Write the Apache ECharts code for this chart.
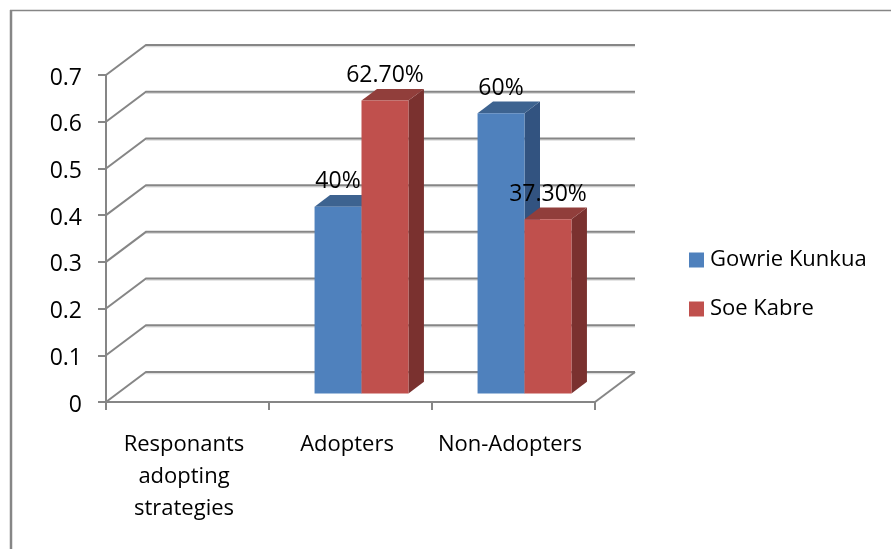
<!DOCTYPE html>
<html>
<head>
<meta charset="utf-8">
<style>html,body{margin:0;padding:0;background:#fff}#c{width:891px;height:549px}</style>
<script src="https://cdn.jsdelivr.net/npm/echarts@6/dist/echarts.min.js"></script>
</head>
<body>
<div id="c"></div>
<script>
const categories = ['Responants\nadopting\nstrategies', 'Adopters', 'Non-Adopters'];
const gowrieKunkua = [null, 0.4, 0.6];
const soeKabre = [null, 0.627, 0.373];
const gowrieLabels = ['', '40%', '60%'];
const soeLabels = ['', '62.70%', '37.30%'];
const gridTicks = [0, 0.1, 0.2, 0.3, 0.4, 0.5, 0.6, 0.7];

const FONT = '"Open Sans", "Noto Sans", sans-serif';
const GRID = '#868686';
const DEPTH = [40, -30], BAR_DEPTH = [15.5, -11.7], BAR_BASE = [11, -8.5];
const BAR_SHARE = 0.288;

function wallItem(params, api) {
  const v = api.value(0);
  const cs = params.coordSys;
  const y = api.coord([0, v])[1];
  const x0 = cs.x, x1 = cs.x + cs.width;
  const xb = x0 + DEPTH[0], yb = y + DEPTH[1];
  const children = [
    { type: 'line', shape: { x1: xb, y1: yb + 1.5, x2: x1 + DEPTH[0], y2: yb + 1.5 }, style: { stroke: '#dcdcdc', lineWidth: 1.5 } },
    { type: 'polyline', shape: { points: [[x0, y], [xb, yb], [x1 + DEPTH[0], yb]] }, style: { stroke: GRID, lineWidth: 2, fill: null } }
  ];
  if (v === 0) {
    children.push({ type: 'line', shape: { x1: x1, y1: y, x2: x1 + DEPTH[0], y2: yb }, style: { stroke: GRID, lineWidth: 2 } });
  }
  return { type: 'group', children };
}

function barRenderer(slot, labels, colors) {
  return function (params, api) {
    const i = api.value(0), v = api.value(1);
    if (v == null || isNaN(v)) return null;
    const band = api.size([1, 0])[0], w = band * BAR_SHARE;
    const cx = api.coord([i, 0])[0] + BAR_BASE[0];
    const xl = cx + (slot === 0 ? -w : 0), xr = xl + w;
    const yb = api.coord([i, 0])[1] + BAR_BASE[1];
    const yt = api.coord([i, v])[1] + BAR_BASE[1];
    const dx = BAR_DEPTH[0], dy = BAR_DEPTH[1];
    return {
      type: 'group',
      children: [
        { type: 'polygon', shape: { points: [[xr, yt], [xr + dx, yt + dy], [xr + dx, yb + dy], [xr, yb]] }, style: { fill: colors.side } },
        { type: 'polygon', shape: { points: [[xl, yt], [xl + dx, yt + dy], [xr + dx, yt + dy], [xr, yt]] }, style: { fill: colors.top } },
        { type: 'rect', shape: { x: xl, y: yt, width: w, height: yb - yt }, style: { fill: colors.front } },
        { type: 'text', z2: 50, style: { text: labels[i], x: (xl + xr) / 2, y: yt - 25, align: 'center', verticalAlign: 'middle', font: '23px ' + FONT, fill: '#000' } }
      ]
    };
  };
}

const chart = echarts.init(document.getElementById('c'), null, { renderer: 'canvas' });
chart.setOption({
  animation: false,
  backgroundColor: '#fff',
  graphic: [
    { type: 'line', silent: true, shape: { x1: 11, y1: 10, x2: 11, y2: 549 }, style: { stroke: GRID, lineWidth: 2.5 } },
    { type: 'line', silent: true, shape: { x1: 10, y1: 10.5, x2: 891, y2: 10.5 }, style: { stroke: GRID, lineWidth: 1.5 } }
  ],
  grid: { left: 106, top: 75, width: 489, height: 327, containLabel: false },
  xAxis: {
    type: 'category', data: categories,
    axisLine: { lineStyle: { color: GRID, width: 2 } },
    axisTick: { show: true, interval: 0, alignWithLabel: false, length: 8, lineStyle: { color: GRID, width: 2 } },
    axisLabel: { color: '#000', fontFamily: FONT, fontSize: 22, lineHeight: 32, margin: 27, interval: 0, padding: [0, 7, 0, 0] }
  },
  yAxis: {
    type: 'value', min: 0, max: 0.7, interval: 0.1,
    axisLine: { show: true, lineStyle: { color: GRID, width: 2 } },
    axisTick: { show: true, length: 8, lineStyle: { color: GRID, width: 2 } },
    axisLabel: { color: '#000', fontFamily: FONT, fontSize: 23, margin: 24, verticalAlign: 'top', lineHeight: 6 },
    splitLine: { show: false }
  },
  legend: {
    left: 689, top: 246, padding: 0, orient: 'vertical', icon: 'rect', itemWidth: 15, itemHeight: 15, itemGap: 21,
    selectedMode: false, data: ['Gowrie Kunkua', 'Soe Kabre'],
    textStyle: { color: '#000', fontFamily: FONT, fontSize: 22, padding: [2, 0, 0, 1], lineHeight: 26 }
  },
  series: [
    { type: 'custom', name: 'walls', silent: true, z: 1, renderItem: wallItem, data: gridTicks.map(v => [v]), encode: { y: 0 } },
    { type: 'custom', name: 'Gowrie Kunkua', z: 2, itemStyle: { color: '#4F81BD' },
      renderItem: barRenderer(0, gowrieLabels, { front: '#4F81BD', top: '#3D6390', side: '#325380' }),
      data: gowrieKunkua.map((v, i) => [i, v]), encode: { x: 0, y: 1 } },
    { type: 'custom', name: 'Soe Kabre', z: 3, itemStyle: { color: '#C0504D' },
      renderItem: barRenderer(1, soeLabels, { front: '#C0504D', top: '#913E3B', side: '#7A312F' }),
      data: soeKabre.map((v, i) => [i, v]), encode: { x: 0, y: 1 } }
  ]
});
</script>
</body>
</html>
